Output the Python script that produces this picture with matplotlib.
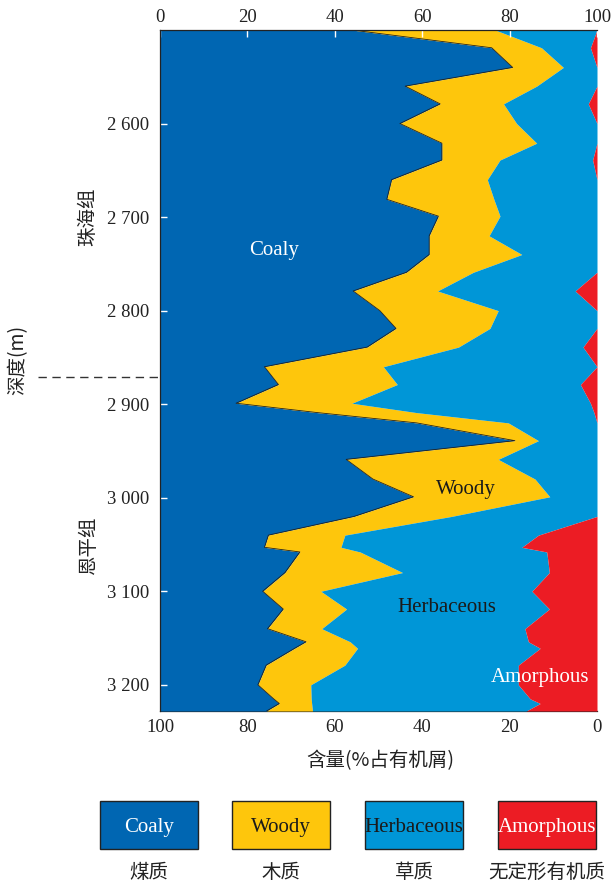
import matplotlib
matplotlib.use("Agg")
import matplotlib.pyplot as plt
import numpy as np
from matplotlib.patches import Rectangle
from matplotlib.lines import Line2D

# depth samples (m) and maceral contents (% of organic debris)
depth = [2500, 2519, 2540, 2560, 2579, 2600, 2621, 2639, 2660, 2681,
         2699, 2720, 2740, 2759, 2779, 2800, 2819, 2839, 2860, 2879,
         2899, 2909, 2920, 2939, 2959, 2980, 2999, 3020, 3040, 3053,
         3058, 3080, 3100, 3119, 3140, 3154, 3161, 3179, 3200, 3215,
         3220, 3228]
coaly = [43.9, 75.9, 80.7, 56.1, 64.1, 54.9, 64.5, 64.5, 53.0, 51.9,
         63.7, 61.6, 61.6, 56.4, 44.2, 50.3, 54.0, 47.4, 23.9, 27.1,
         17.4, 36.0, 58.7, 81.2, 42.6, 48.7, 58.0, 44.4, 24.8, 23.9,
         32.0, 28.6, 23.5, 28.2, 24.6, 33.4, 30.8, 24.3, 22.4, 26.0,
         27.3, 24.4]
woody = [32.8, 11.4, 11.6, 30.1, 14.5, 26.7, 21.7, 13.3, 21.9, 24.5,
         14.1, 13.7, 21.2, 15.3, 19.3, 27.1, 21.5, 20.9, 27.2, 27.2,
         26.5, 22.7, 21.0, 5.4, 34.8, 37.1, 31.2, 22.3, 17.5, 17.5,
         13.8, 26.9, 13.3, 14.5, 12.4, 10.1, 14.4, 18.0, 12.1, 8.6,
         7.4, 10.5]
herbaceous = [23.3, 11.2, 7.7, 13.8, 19.4, 18.4, 13.8, 21.2, 25.1, 23.6,
              22.2, 24.7, 17.2, 28.3, 31.5, 22.6, 24.5, 28.5, 48.9, 41.9,
              54.6, 40.6, 20.3, 13.4, 22.6, 14.2, 10.8, 33.3, 44.3, 41.4,
              42.7, 33.6, 48.3, 46.4, 46.5, 40.8, 41.8, 39.7, 47.5, 50.1,
              52.3, 48.9]
amorphous = [0, 1.5, 0, 0, 2.0, 0, 0, 1.0, 0, 0,
             0, 0, 0, 0, 5.0, 0, 0, 3.2, 0, 3.8,
             1.5, 0.7, 0, 0, 0, 0, 0, 0, 13.4, 17.2,
             11.5, 10.9, 14.9, 10.9, 16.5, 15.7, 13.0, 18.0, 18.0, 15.3,
             13.0, 15.7]

depth_ticks = [2600, 2700, 2800, 2900, 3000, 3100, 3200]
depth_labels = ["2 600", "2 700", "2 800", "2 900", "3 000", "3 100", "3 200"]
pct_ticks = [0, 20, 40, 60, 80, 100]
boundary_depth = 2871  # 珠海组 / 恩平组 boundary

names_en = ["Coaly", "Woody", "Herbaceous", "Amorphous"]
names_cn = ["煤质", "木质", "草质", "无定形有机质"]
colors = ["#0066b2", "#fec60c", "#0096d7", "#ec1c24"]
text_colors = ["white", "#1a1a1a", "#1a1a1a", "white"]

SERIF = ["Liberation Serif", "Noto Sans CJK SC"]
CJK = ["Noto Sans CJK SC", "Liberation Serif"]
W, H = 613, 883


def fx(px):
    return px / W


def fy(py):
    return 1 - py / H


fig = plt.figure(figsize=(6.13, 8.83), dpi=100)
ax = fig.add_axes([fx(160), fy(711), 437 / W, 681 / H])

d = np.array(depth)
c1 = np.array(coaly)
c2 = c1 + np.array(woody)
c3 = c2 + np.array(herbaceous)
ax.fill_betweenx(d, 0, c1, color=colors[0], lw=0)
ax.fill_betweenx(d, c1, c2, color=colors[1], lw=0)
ax.fill_betweenx(d, c2, c3, color=colors[2], lw=0)
ax.fill_betweenx(d, c3, 100, color=colors[3], lw=0)
ax.plot(c1, d, color="#222222", lw=0.6)

ax.set_xlim(0, 100)
ax.set_ylim(max(depth), min(depth))

ax.xaxis.tick_top()
ax.set_xticks(pct_ticks)
ax.set_xticklabels([str(t) for t in pct_ticks], family=SERIF, fontsize=13.5)
ax.tick_params(axis="x", direction="in", color="white", length=5, width=1,
               pad=3, labelcolor="#222222")
ax.set_yticks(depth_ticks)
ax.set_yticklabels(depth_labels, family=SERIF, fontsize=13.5)
ax.tick_params(axis="y", direction="in", color="white", length=5, width=1,
               pad=8, labelcolor="#222222")

sec = ax.secondary_xaxis("bottom", functions=(lambda x: 100 - x, lambda x: 100 - x))
sec.set_xticks(pct_ticks[::-1])
sec.set_xticklabels([str(t) for t in pct_ticks[::-1]], family=SERIF, fontsize=13.5)
sec.tick_params(direction="in", color="white", length=5, width=1, pad=6,
                labelcolor="#222222")
sec.spines["bottom"].set_color("#222222")
sec.spines["bottom"].set_linewidth(0.9)

ax.spines["right"].set_visible(False)
ax.spines["bottom"].set_visible(False)
for s in ["top", "left"]:
    ax.spines[s].set_color("#222222")
    ax.spines[s].set_linewidth(0.9)

# region labels
ax.text(26, 2733, "Coaly", color="white", fontsize=15, family=SERIF,
        ha="center", va="center_baseline")
ax.text(70, 2989, "Woody", color="#1a1a1a", fontsize=15, family=SERIF,
        ha="center", va="center_baseline")
ax.text(65.7, 3115, "Herbaceous", color="#1a1a1a", fontsize=15, family=SERIF,
        ha="center", va="center_baseline")
ax.text(87, 3189, "Amorphous", color="white", fontsize=15, family=SERIF,
        ha="center", va="center_baseline")

# formation boundary dashed line, left of the axis
ax.add_line(Line2D([(38 - 160) / 437, 0], [boundary_depth, boundary_depth],
                   transform=ax.get_yaxis_transform(), clip_on=False,
                   color="#333333", lw=1.0, dashes=(6, 4)))

fig.text(fx(18), fy(360), "深度(m)", rotation=90, ha="center", va="center",
         family=CJK, fontsize=14, color="#222222")
fig.text(fx(88), fy(217), "珠海组", rotation=90, ha="center", va="center",
         family=CJK, fontsize=14, color="#222222")
fig.text(fx(88), fy(545), "恩平组", rotation=90, ha="center", va="center",
         family=CJK, fontsize=14, color="#222222")
fig.text(fx(380), fy(761), "含量(%占有机屑)", ha="center", va="center",
         family=CJK, fontsize=14, color="#222222")

# legend boxes
box_left = [100, 232, 365, 498]
for x0, en, cn, col, tc in zip(box_left, names_en, names_cn, colors, text_colors):
    fig.patches.append(Rectangle((fx(x0), fy(849)), 98 / W, 48 / H,
                                 transform=fig.transFigure, facecolor=col,
                                 edgecolor="#222222", lw=1.0))
    fig.text(fx(x0 + 49), fy(825), en, ha="center", va="center_baseline",
             family=SERIF, fontsize=15, color=tc)
    fig.text(fx(x0 + 49), fy(872), cn, ha="center", va="center",
             family=CJK, fontsize=14, color="#222222")

fig.savefig("out.png", dpi=100)
